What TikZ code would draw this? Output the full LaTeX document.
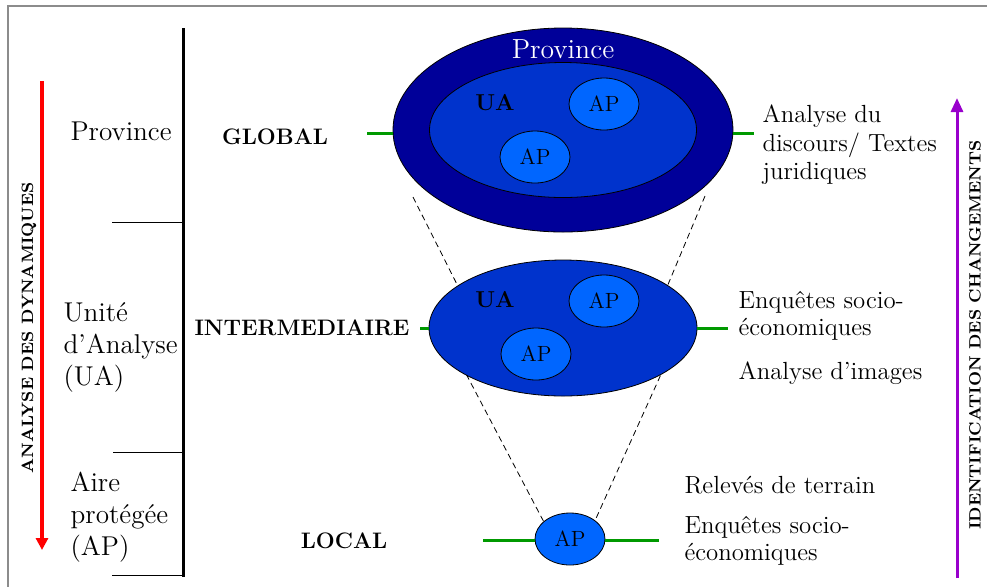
\documentclass[tikz,border=0pt]{standalone}
\usepackage{amsmath}
\usepackage{xcolor}
\usepackage{tikz}
\usetikzlibrary{arrows.meta,shapes.geometric}
\usetikzlibrary{calc}
\usetikzlibrary{positioning}

\definecolor{navy}{RGB}{0,0,153}
\definecolor{bleu}{RGB}{0,51,204}
\definecolor{ciel}{RGB}{0,102,255}
\definecolor{vert}{RGB}{0,153,0}
\definecolor{violet}{RGB}{153,0,204}

\begin{document}
\begin{tikzpicture}[x=0.5pt,y=-0.5pt,semithick]
 \tikzstyle{zone}=[draw,ellipse,thin,inner sep=0pt]
 \tikzstyle{aire}=[zone,fill=ciel,minimum width=35pt,minimum height=26pt,font=\fontsize{11}{13}\selectfont]
 \tikzstyle{lien}=[vert,line width=1.5pt]
 \tikzstyle{proj}=[densely dashed,thin]
 \tikzstyle{niveau}=[font=\bfseries\fontsize{11.2}{13}\selectfont]
 \tikzstyle{sigle}=[font=\bfseries\fontsize{11.5}{13}\selectfont]
 \tikzstyle{echelle}=[anchor=west,align=left,inner sep=0pt,font=\fontsize{13.6}{16}\selectfont]
 \tikzstyle{methode}=[anchor=west,align=left,inner sep=0pt,font=\fontsize{12.4}{14.3}\selectfont]
 \tikzstyle{axe}=[rotate=90,font=\bfseries\fontsize{8.2}{10}\selectfont]

 \useasboundingbox (0,0) rectangle (987,586);
 \draw[gray!90,line width=1pt] (8,600) -- (8,6) -- (1000,6);

 % echelles a gauche
 \draw[line width=1.5pt] (183,28) -- (183,577);
 \draw[thin] (112,222) -- (183,222);
 \draw[thin] (113,452) -- (183,452);
 \draw[thin] (112,575) -- (183,575);
 \node[echelle] (e1) at (70,131) {Province};
 \node[echelle] (e2) at (63,347) {Unit\'e\\d'Analyse\\(UA)};
 \node[echelle] (e3) at (70,517) {Aire\\prot\'eg\'ee\\(AP)};

 \coordinate (r1) at (42,81);
 \coordinate (r2) at (42,550);
 \draw[red,line width=2pt,-{Triangle[width=6pt,length=6pt]}] (r1) -- (r2);
 \node[axe] (a1) at (29,328) {ANALYSE DES DYNAMIQUES};

 % niveaux
 \node[niveau] (g) at (275,137) {GLOBAL};
 \node[niveau] (i) at (302,328) {INTERMEDIAIRE};
 \node[niveau] (l) at (344,541) {LOCAL};

 % projections
 \coordinate (d1) at (413,197);
 \coordinate (d2) at (480,330);
 \coordinate (d3) at (705,196);
 \coordinate (d4) at (649,330);
 \coordinate (d5) at (443,330);
 \coordinate (d6) at (556,545);
 \coordinate (d7) at (681,330);
 \coordinate (d8) at (584,545);
 \draw[proj] (d1) -- (d2);
 \draw[proj] (d3) -- (d4);
 \draw[proj] (d5) -- (d6);
 \draw[proj] (d7) -- (d8);

 % province
 \node[zone,fill=navy,minimum width=170pt,minimum height=102pt] (p) at (563,130) {};
 \node[zone,fill=bleu,minimum width=133.5pt,minimum height=67.5pt] (ua) at (563,130) {};
 \node[white,font=\fontsize{13.8}{16}\selectfont] (pt) at (563,49) {Province};
 \node[sigle] (uat) at (495,103) {UA};
 \node[aire] (ap1) at (604,104) {AP};
 \node[aire] (ap2) at (535,157) {AP};

 % unite d'analyse
 \node[zone,fill=bleu,minimum width=134pt,minimum height=68pt] (ub) at (563,328) {};
 \node[sigle] (ubt) at (495,300) {UA};
 \node[aire] (ap3) at (604,301) {AP};
 \node[aire] (ap4) at (536,354) {AP};

 % aire protegee
 \node[aire] (ap5) at (570,539) {AP};

 % liens
 \coordinate (c1) at (367,133);
 \coordinate (c2) at (754,133);
 \coordinate (c3) at (420,328);
 \coordinate (c4) at (728,328);
 \coordinate (c5) at (483,540);
 \coordinate (c6) at (659,540);
 \draw[lien] (c1) -- (c1 -| p.west);
 \draw[lien] (c2 -| p.east) -- (c2);
 \draw[lien] (c3) -- (ub.west);
 \draw[lien] (ub.east) -- (c4);
 \draw[lien] (c5) -- (c5 -| ap5.west);
 \draw[lien] (c6 -| ap5.east) -- (c6);

 % methodes
 \node[methode] (m1) at (762,145) {Analyse du\\discours/ Textes\\juridiques};
 \node[methode,font=\fontsize{12.4}{13.5}\selectfont] (m2) at (738,316) {Enqu\^etes socio-\\\'economiques};
 \node[methode] (m3) at (738,373) {Analyse d'images};
 \node[methode] (m4) at (684,485) {Relev\'es de terrain};
 \node[methode,font=\fontsize{12.4}{13.5}\selectfont] (m5) at (684,541) {Enqu\^etes socio-\\\'economiques};

 \coordinate (v1) at (957,578);
 \coordinate (v2) at (957,98);
 \draw[violet,line width=1.5pt,-{Triangle[width=6pt,length=7pt]}] (v1) -- (v2);
 \node[axe] (a2) at (975,335) {IDENTIFICATION DES CHANGEMENTS};
\end{tikzpicture}
\end{document}
